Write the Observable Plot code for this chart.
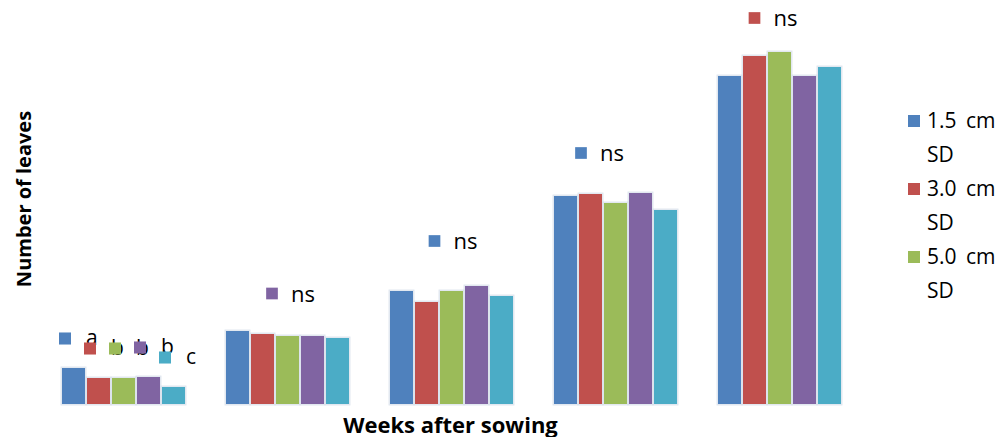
<!DOCTYPE html>
<html><head><meta charset="utf-8">
<script src="https://cdn.jsdelivr.net/npm/d3@7"></script>
<script src="https://cdn.jsdelivr.net/npm/@observablehq/plot@0.6"></script>
<style>
body{margin:0;background:#fff;}
#wrap{position:relative;width:1003px;height:437px;overflow:hidden;font-family:"Open Sans",sans-serif;color:#000;}
.t{position:absolute;white-space:nowrap;}
.sq{position:absolute;width:12px;height:12px;}
</style></head><body><div id="wrap"></div>
<script>
// ---- data ----
const weeks = ["1", "2", "3", "4", "5"];
const series = ["1.5 cm SD", "3.0 cm SD", "5.0 cm SD", "Series 4", "Series 5"];
const legendSeries = ["1.5 cm SD", "3.0 cm SD", "5.0 cm SD"];
const blueValues   = [3.6, 7.3, 11.3, 20.8, 32.8];
const redValues    = [2.6, 7.0, 10.2, 21.0, 34.8];
const greenValues  = [2.6, 6.8, 11.3, 20.1, 35.2];
const purpleValues = [2.7, 6.8, 11.8, 21.1, 32.8];
const tealValues   = [1.7, 6.6, 10.8, 19.4, 33.7];
const week1Letters = ["a", "b", "b", "b", "c"];
const nsWeeks  = ["2", "3", "4", "5"];
const nsSeries = ["Series 4", "1.5 cm SD", "1.5 cm SD", "3.0 cm SD"];
const nsLevels = [11.1, 16.35, 25.15, 38.65];

// ---- styling ----
const colors = ["#4F81BD", "#C0504D", "#9BBB59", "#8064A2", "#4BACC6"];
const nsNudge = [9, 7.5, -10, -0.5];
const FONT = "Open Sans";

const allValues = [blueValues, redValues, greenValues, purpleValues, tealValues];
const data = weeks.flatMap((w, i) => series.map((s, j) => ({week: w, series: s, value: allValues[j][i]})));
const letters = series.map((s, j) => ({week: weeks[0], series: s, value: allValues[j][0], label: week1Letters[j]}));
const ns = nsWeeks.map((w, i) => ({week: w, series: nsSeries[i], y: nsLevels[i], nudge: nsNudge[i]}));

const nsMarks = ns.flatMap(d => [
  Plot.dot([d], {fx: "week", x: () => series[1], y: "y", fill: "series", symbol: "square", r: 6.6, dx: d.nudge}),
  Plot.text([d], {fx: "week", x: () => series[1], y: "y", text: () => "ns", dx: d.nudge + 19, dy: 1,
    textAnchor: "start", fontSize: 22, fontFamily: FONT, fill: "#000"})
]);

const plot = Plot.plot({
  width: 1003, height: 437,
  marginLeft: 59, marginRight: 159, marginTop: 0, marginBottom: 33,
  fx: {domain: weeks, paddingInner: 0.242, paddingOuter: 0, axis: null},
  x: {domain: series, paddingInner: 0.1, paddingOuter: 0, axis: null},
  y: {domain: [0, 40.4], axis: null},
  color: {domain: series, range: colors},
  style: {background: "#fff", overflow: "visible"},
  marks: [
    Plot.barY(data, {fx: "week", x: "series", y: "value", fill: "none", stroke: "#cfd9e6", strokeWidth: 3, strokeOpacity: 0.6}),
    Plot.barY(data, {fx: "week", x: "series", y: "value", fill: "series"}),
    Plot.text(letters, {fx: "week", x: "series", y: "value", text: "label", dx: 12, dy: -30,
      textAnchor: "start", fontSize: 21, fontFamily: FONT, fill: "#000"}),
    Plot.dot(letters, {fx: "week", x: "series", y: "value", fill: "series", symbol: "square", r: 6.8, dx: -9, dy: -30}),
    ...nsMarks
  ]
});

const wrap = document.getElementById("wrap");
wrap.appendChild(plot);

// axis titles
const yt = document.createElement("div");
yt.className = "t";
yt.textContent = "Number of leaves";
yt.style.cssText = `left:23.5px;top:198.5px;font-weight:700;font-size:20px;line-height:20px;transform:translate(-50%,-50%) rotate(-90deg);`;
wrap.appendChild(yt);

const xt = document.createElement("div");
xt.className = "t";
xt.textContent = "Weeks after sowing";
xt.style.cssText = `left:450.5px;top:412.5px;font-weight:700;font-size:22px;line-height:22px;transform:translateX(-50%);`;
wrap.appendChild(xt);

// legend
legendSeries.forEach((s, i) => {
  const sq = document.createElement("div");
  sq.className = "sq";
  sq.style.left = "908px";
  sq.style.top = (115 + i * 68) + "px";
  sq.style.background = colors[series.indexOf(s)];
  wrap.appendChild(sq);
  const tx = document.createElement("div");
  tx.className = "t";
  const parts = s.split(" SD");
  tx.innerHTML = parts[0] + "<br>SD";
  tx.style.cssText = `left:927px;top:${102.9 + i * 68}px;font-size:21px;line-height:34px;word-spacing:4px;`;
  wrap.appendChild(tx);
});
</script></body></html>
